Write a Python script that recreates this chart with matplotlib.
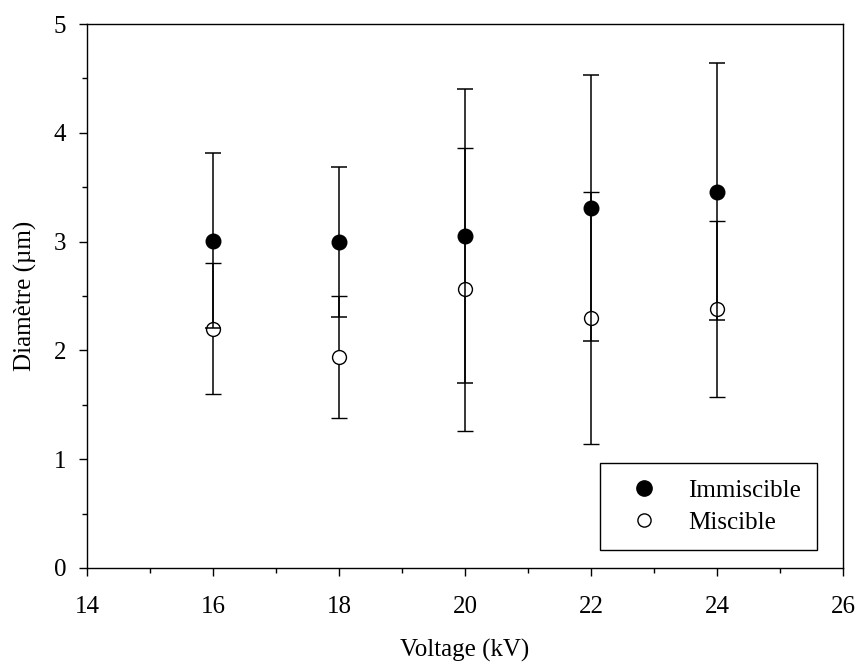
import matplotlib.pyplot as plt
from matplotlib.lines import Line2D
from matplotlib.ticker import MultipleLocator

plt.rcParams['font.family'] = ['Liberation Serif', 'DejaVu Serif']

# Voltage (kV) and mean diameters with standard deviations (um)
voltage = [16, 18, 20, 22, 24]
immiscible = [3.01, 3.00, 3.05, 3.31, 3.46]
immiscible_sd = [0.80, 0.69, 1.35, 1.22, 1.18]
miscible = [2.20, 1.94, 2.56, 2.30, 2.38]
miscible_sd = [0.60, 0.56, 1.30, 1.16, 0.81]

fig = plt.figure(figsize=(8.59, 6.65), dpi=100)
ax = fig.add_axes([0.1013, 0.1459, 0.8801, 0.818])

# open circles first, filled series on top
ax.errorbar(voltage, miscible, yerr=miscible_sd, fmt='o', color='black',
            mfc='white', mec='black', ms=10, mew=1.0, elinewidth=1.1,
            capsize=6, capthick=1.1, zorder=2)
ax.errorbar(voltage, immiscible, yerr=immiscible_sd, fmt='o', color='black',
            mfc='black', mec='black', ms=10.5, elinewidth=1.1,
            capsize=6, capthick=1.1, zorder=3)

ax.set_xlim(14, 26)
ax.set_ylim(0, 5)
ax.xaxis.set_major_locator(MultipleLocator(2))
ax.xaxis.set_minor_locator(MultipleLocator(1))
ax.yaxis.set_major_locator(MultipleLocator(1))
ax.yaxis.set_minor_locator(MultipleLocator(0.5))
ax.tick_params(which='both', direction='out', top=False, right=False,
               labelsize=18, width=1)
ax.tick_params(which='major', length=6)
ax.tick_params(which='minor', length=3.5)
ax.tick_params(axis='x', which='major', pad=14)
ax.tick_params(axis='y', which='major', pad=9)
for s in ax.spines.values():
    s.set_linewidth(1)

ax.set_xlabel('Voltage (kV)', fontsize=18, labelpad=15)
ax.set_ylabel('Diamètre (µm)', fontsize=18, labelpad=12)

handles = [
    Line2D([], [], ls='none', marker='o', ms=11, mfc='black', mec='black'),
    Line2D([], [], ls='none', marker='o', ms=9.5, mfc='white', mec='black', mew=1.0),
]
leg = ax.legend(handles, ['Immiscible', 'Miscible'], loc='lower right',
                bbox_to_anchor=(0.9656, 0.033), fontsize=18, frameon=True,
                fancybox=False, edgecolor='black', framealpha=1,
                handlelength=2.24, handletextpad=0.64, borderpad=0.64,
                borderaxespad=0, labelspacing=0.4)
leg.get_frame().set_linewidth(1)

fig.savefig('out.png', dpi=100)
